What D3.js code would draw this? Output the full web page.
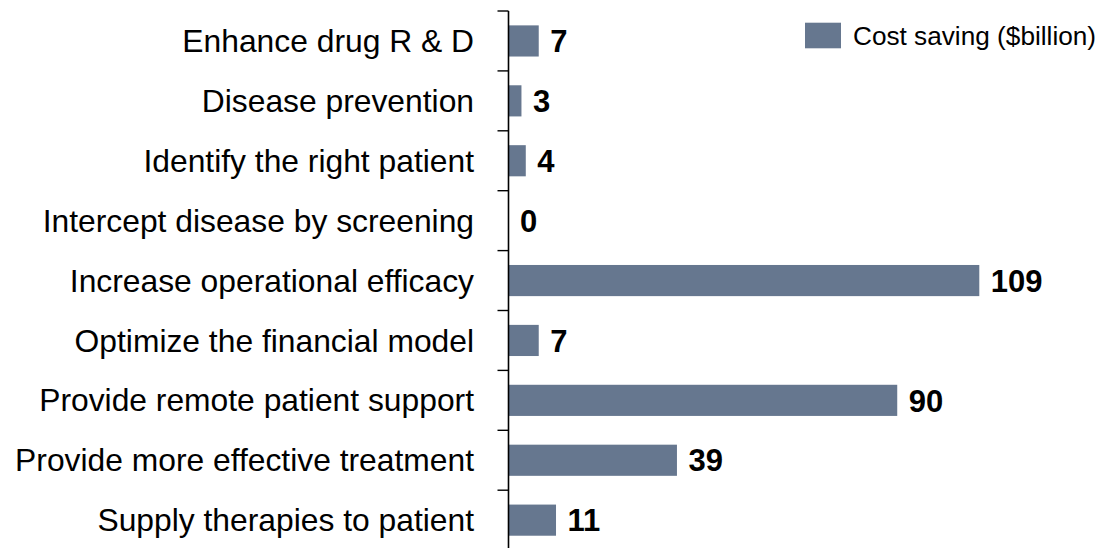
<!DOCTYPE html>
<html>
<head>
<meta charset="utf-8">
<script src="https://cdn.jsdelivr.net/npm/d3@7"></script>
<style>
  html, body { margin: 0; padding: 0; background: #ffffff; }
  svg { display: block; }
  text { font-family: "Liberation Sans", Arial, Helvetica, sans-serif; }
</style>
</head>
<body>
<svg id="chart" width="1102" height="548"></svg>
<script>
// Cost saving by AI application area ($billion)
const categories = [
  "Enhance drug R & D",
  "Disease prevention",
  "Identify the right patient",
  "Intercept disease by screening",
  "Increase operational efficacy",
  "Optimize the financial model",
  "Provide remote patient support",
  "Provide more effective treatment",
  "Supply therapies to patient"
];
const costSaving = [7, 3, 4, 0, 109, 7, 90, 39, 11];
const seriesName = "Cost saving ($billion)";

const barColor = "#66778f";

const svg = d3.select("#chart");

const axisX = 508.5;
const x = d3.scaleLinear()
  .domain([0, 109])
  .range([axisX, 979.3]);

const y = d3.scaleBand()
  .domain(categories)
  .range([11, 11 + 59.9 * categories.length])
  .paddingInner(0.48)
  .paddingOuter(0.24);

// bars
svg.append("g")
  .selectAll("rect")
  .data(categories)
  .join("rect")
  .attr("x", axisX + 0.5)
  .attr("y", d => y(d))
  .attr("width", (d, i) => Math.max(0, x(costSaving[i]) - axisX - 0.5))
  .attr("height", y.bandwidth())
  .attr("fill", barColor);

// value labels
svg.append("g")
  .selectAll("text")
  .data(categories)
  .join("text")
  .attr("x", (d, i) => x(costSaving[i]) + 11.5)
  .attr("y", d => y(d) + y.bandwidth() / 2)
  .attr("dy", "0.36em")
  .attr("font-size", "31px")
  .attr("font-weight", "bold")
  .attr("fill", "#000")
  .text((d, i) => costSaving[i]);

// category axis: line, ticks between categories, labels
const step = y.step();
const bounds = d3.range(categories.length + 1).map(i => y.range()[0] + i * step);

const axis = svg.append("g");
axis.append("line")
  .attr("x1", axisX).attr("x2", axisX)
  .attr("y1", bounds[0]).attr("y2", bounds[bounds.length - 1])
  .attr("stroke", "#000").attr("stroke-width", 1.6);

axis.selectAll("line.tick")
  .data(bounds)
  .join("line")
  .attr("class", "tick")
  .attr("x1", axisX - 11).attr("x2", axisX)
  .attr("y1", d => d).attr("y2", d => d)
  .attr("stroke", "#000").attr("stroke-width", 1.4);

axis.selectAll("text")
  .data(categories)
  .join("text")
  .attr("x", 474)
  .attr("y", d => y(d) + y.bandwidth() / 2)
  .attr("dy", "0.35em")
  .attr("text-anchor", "end")
  .attr("font-size", "31.8px")
  .attr("fill", "#000")
  .text(d => d);

// legend
const legend = svg.append("g");
legend.append("rect")
  .attr("x", 805).attr("y", 22.7)
  .attr("width", 36).attr("height", 25.6)
  .attr("fill", barColor);
legend.append("text")
  .attr("x", 853).attr("y", 35.5)
  .attr("dy", "0.35em")
  .attr("font-size", "26.2px")
  .attr("fill", "#000")
  .text(seriesName);
</script>
</body>
</html>
